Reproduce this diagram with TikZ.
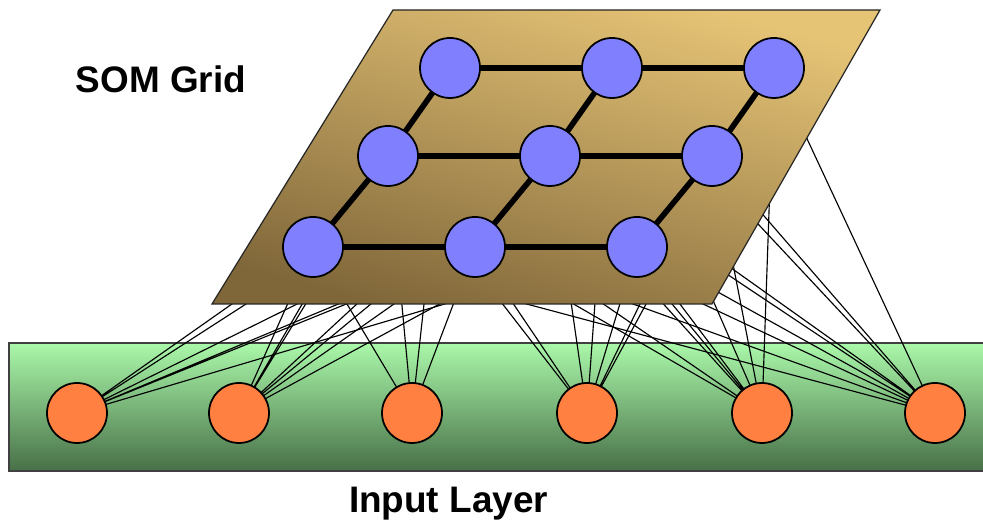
\documentclass[tikz,border=0pt]{standalone}
\usepackage{fontspec}
\setmainfont{Liberation Sans}
\usepackage{tikz}
\definecolor{SOMPlaneLight}{RGB}{230,196,118}
\definecolor{SOMPlaneDark}{RGB}{128,103,58}
\definecolor{SOMNodeBlue}{RGB}{128,128,255}
\definecolor{InputBarLight}{RGB}{170,248,170}
\definecolor{InputBarDark}{RGB}{72,112,72}
\definecolor{InputOrange}{RGB}{255,128,64}
\pgfdeclarelayer{barlayer}
\pgfdeclarelayer{wirelayer}
\pgfdeclarelayer{planelayer}
\pgfsetlayers{barlayer,wirelayer,planelayer,main}

\begin{document}
\begin{tikzpicture}[
x=1cm,
y=1cm,
every node/.style={text=black,outer sep=0pt},
somnode/.style={circle,draw=black,fill=SOMNodeBlue,line width=1pt,minimum size=1.2cm,inner sep=0pt},
inputnode/.style={circle,draw=black,fill=InputOrange,line width=1pt,minimum size=1.2cm,inner sep=0pt},
gridlink/.style={draw=black,line width=3.2pt},
wire/.style={draw=black,line width=0.65pt,line cap=round},
layertitle/.style={font=\fontsize{21}{25}\selectfont\bfseries,inner sep=0pt,anchor=base}
]

\path[use as bounding box] (0,0) rectangle (19.66,10.46);

\coordinate (planeNW) at (7.86,10.26);
\coordinate (planeNE) at (17.60,10.26);
\coordinate (planeSE) at (14.24,4.38);
\coordinate (planeSW) at (4.24,4.38);

\node[somnode] (t1) at (9.00,9.10) {};
\node[somnode] (t2) at (12.24,9.10) {};
\node[somnode] (t3) at (15.48,9.10) {};
\node[somnode] (m1) at (7.76,7.34) {};
\node[somnode] (m2) at (11.00,7.34) {};
\node[somnode] (m3) at (14.24,7.34) {};
\node[somnode] (b1) at (6.26,5.52) {};
\node[somnode] (b2) at (9.50,5.52) {};
\node[somnode] (b3) at (12.74,5.52) {};

\node[inputnode] (in1) at (1.54,2.20) {};
\node[inputnode] (in2) at (4.78,2.20) {};
\node[inputnode] (in3) at (8.24,2.20) {};
\node[inputnode] (in4) at (11.74,2.20) {};
\node[inputnode] (in5) at (15.24,2.20) {};
\node[inputnode] (in6) at (18.70,2.20) {};

\node[layertitle] (somtitle) at (3.22,8.60) {SOM Grid};
\node[layertitle] (inputtitle) at (8.97,0.20) {Input Layer};

\begin{pgfonlayer}{barlayer}
\draw[draw=black!75,line width=0.7pt,top color=InputBarLight,middle color=InputBarLight!85!InputBarDark,bottom color=InputBarDark] (0.18,1.04) rectangle (19.80,3.60);
\end{pgfonlayer}

\begin{pgfonlayer}{planelayer}
\draw[draw=black!85,line width=0.7pt,top color=SOMPlaneLight,bottom color=SOMPlaneDark,shading angle=-15] (planeNW) -- (planeNE) -- (planeSE) -- (planeSW) -- cycle;
\end{pgfonlayer}

\begin{pgfonlayer}{wirelayer}
\draw[wire] (in1) -- (b1) (in1) -- (t2) (in1) -- (t3) (in1) -- (b2) (in1) -- (m3) (in1) -- (b3);
\draw[wire] (in2) -- (b1) (in2) -- (m1) (in2) -- (t1) (in2) -- (t2) (in2) -- (b2) (in2) -- (m3) (in2) -- (m2);
\draw[wire] (in3) -- (b1) (in3) -- (m1) (in3) -- (t1) (in3) -- (b2);
\draw[wire] (in4) -- (m1) (in4) -- (b2) (in4) -- (m2) (in4) -- (t2) (in4) -- (b3) (in4) -- (m3) (in4) -- (t3);
\draw[wire] (in5) -- (m1) (in5) -- (t1) (in5) -- (b2) (in5) -- (m2) (in5) -- (b3) (in5) -- (t2) (in5) -- (m3) (in5) -- (t3);
\draw[wire] (in6) -- (b1) (in6) -- (b2) (in6) -- (b3) (in6) -- (m1) (in6) -- (m2) (in6) -- (m3) (in6) -- (t1) (in6) -- (t2) (in6) -- (t3);
\end{pgfonlayer}

\draw[gridlink] (t1) -- (t2);
\draw[gridlink] (t2) -- (t3);
\draw[gridlink] (m1) -- (m2);
\draw[gridlink] (m2) -- (m3);
\draw[gridlink] (b1) -- (b2);
\draw[gridlink] (b2) -- (b3);
\draw[gridlink] (t1) -- (m1);
\draw[gridlink] (m1) -- (b1);
\draw[gridlink] (t2) -- (m2);
\draw[gridlink] (m2) -- (b2);
\draw[gridlink] (t3) -- (m3);
\draw[gridlink] (m3) -- (b3);

\end{tikzpicture}
\end{document}
